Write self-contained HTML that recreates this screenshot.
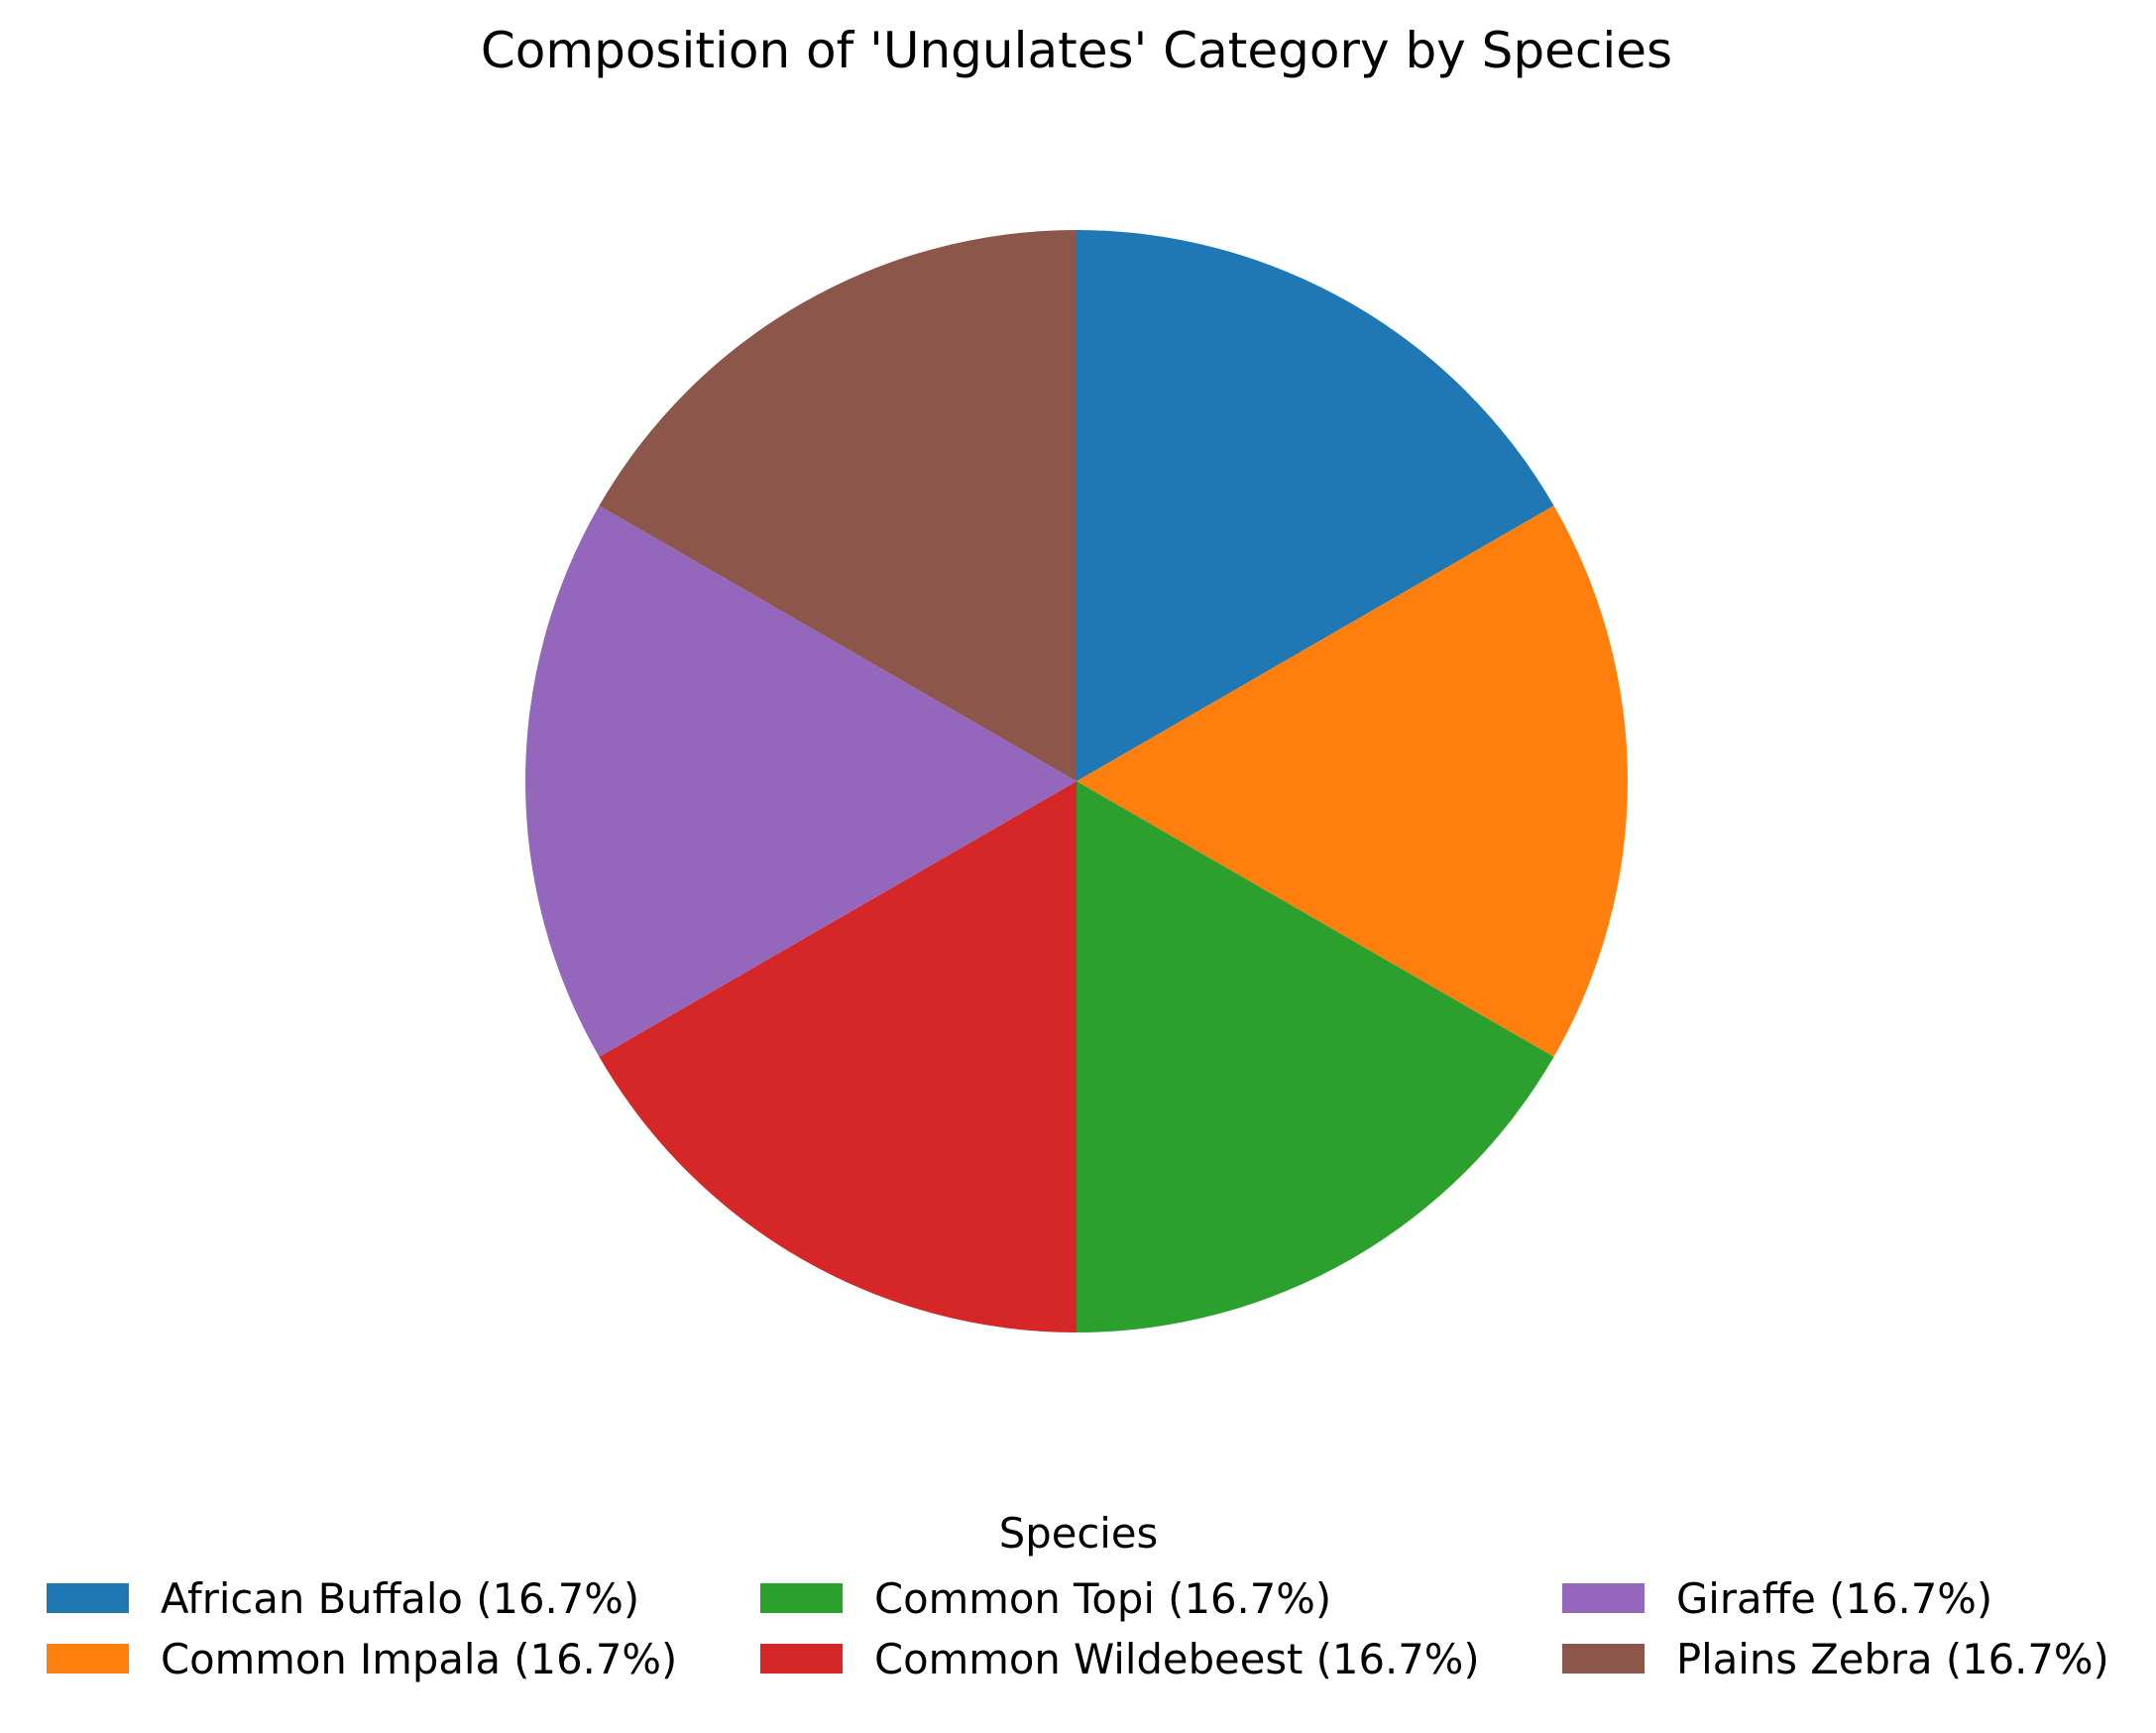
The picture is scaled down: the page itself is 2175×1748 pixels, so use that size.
<!DOCTYPE html>
<html><head><meta charset="utf-8"><style>
html,body{margin:0;padding:0;background:#fff;}
svg text{font-family:"DejaVu Sans","Liberation Sans",sans-serif;fill:#000;}
</style></head><body>
<svg id="chart" width="2175" height="1743" xmlns="http://www.w3.org/2000/svg">
<text x="1086" y="68" font-size="50" text-anchor="middle">Composition of 'Ungulates' Category by Species</text>
<g id="slices"></g>
<g id="legend">
<text x="1088" y="1561" font-size="41.7" text-anchor="middle">Species</text>
</g>
</svg>
<script>
const categories=["African Buffalo","Common Impala","Common Topi","Common Wildebeest","Giraffe","Plains Zebra"];
const values=[1,1,1,1,1,1];
const colors=["#1f77b4","#ff7f0e","#2ca02c","#d62728","#9467bd","#8c564b"];
const NS="http://www.w3.org/2000/svg";
const cx=1086,cy=788,r=556;
const total=values.reduce((a,b)=>a+b,0);
const g=document.getElementById('slices');
let ang=90;
values.forEach((v,i)=>{
  const sweep=v/total*360;
  const a0=ang*Math.PI/180,a1=(ang-sweep)*Math.PI/180;
  const x0=cx+r*Math.cos(a0),y0=cy-r*Math.sin(a0);
  const x1=cx+r*Math.cos(a1),y1=cy-r*Math.sin(a1);
  const p=document.createElementNS(NS,'path');
  p.setAttribute('d',`M${cx},${cy}L${x0},${y0}A${r},${r} 0 ${sweep>180?1:0} 1 ${x1},${y1}Z`);
  p.setAttribute('fill',colors[i]);
  
  
  g.appendChild(p);
  ang-=sweep;
});
const lg=document.getElementById('legend');
const colX=[47,767,1576],rowY=[1597,1658];
categories.forEach((c,i)=>{
  const col=Math.floor(i/2),row=i%2;
  const s=document.createElementNS(NS,'rect');
  s.setAttribute('x',colX[col]);s.setAttribute('y',rowY[row]);
  s.setAttribute('width',83);s.setAttribute('height',30);
  s.setAttribute('fill',colors[i]);
  
  
  lg.appendChild(s);
  const t=document.createElementNS(NS,'text');
  t.setAttribute('x',colX[col]+115);t.setAttribute('y',rowY[row]+30);
  t.setAttribute('font-size','41.7');
  t.textContent=`${c} (${(values[i]/total*100).toFixed(1)}%)`;
  
  
  lg.appendChild(t);
});
</script>
</body></html>
